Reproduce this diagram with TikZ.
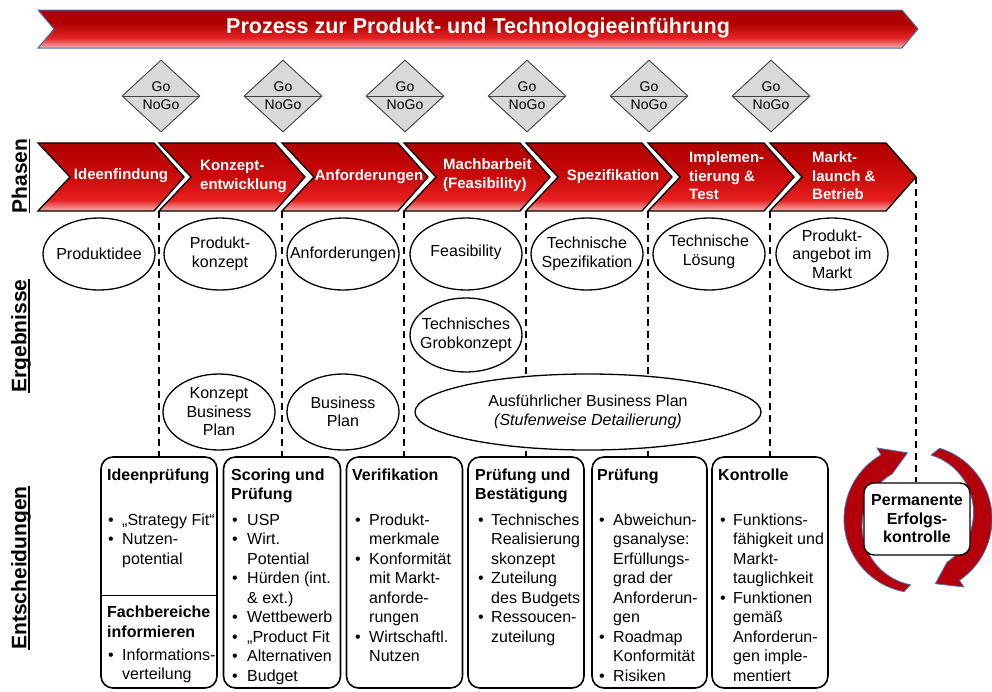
\documentclass[tikz,border=0pt]{standalone}
\usepackage{fontspec}
\setmainfont{Liberation Sans}
\usetikzlibrary{shapes.geometric}
\definecolor{pD}{HTML}{B00000}
\definecolor{pMD}{HTML}{CC0A0A}
\definecolor{pM}{HTML}{E82020}
\definecolor{pL}{HTML}{F5B5B5}
\definecolor{bM}{HTML}{E42424}
\definecolor{bL}{HTML}{F6B0B0}
\definecolor{bannerline}{HTML}{4A70B0}
\definecolor{dgray}{HTML}{D9D9D9}
\definecolor{circred}{HTML}{B4000A}
\pgfdeclareverticalshading{phaseshade}{100bp}{color(0bp)=(pL); color(25bp)=(pL); color(33bp)=(pM); color(50bp)=(pMD); color(75bp)=(pD); color(100bp)=(pD)}
\pgfdeclareverticalshading{bannershade}{100bp}{color(0bp)=(bL); color(25bp)=(bL); color(38bp)=(bM); color(58bp)=(pD); color(75bp)=(pD); color(100bp)=(pD)}
\newsavebox{\ulbox}
\newcommand{\myul}[1]{\sbox{\ulbox}{#1}\rlap{\usebox{\ulbox}}\rule[-3.5pt]{\wd\ulbox}{1.6pt}}
\newcommand{\bxitems}[5]{%
  \foreach \ya/\bu/\tx [count=\k] in {#5} {
    \node[txt] (#1i\k) at (#4,\ya) {\tx};
    \ifnum\bu=1 \node[txt] (#1d\k) at (#3,\ya) {\textbullet};\fi
  }}
\begin{document}
\begin{tikzpicture}[x=1pt,y=-1pt,
  txt/.style={font=\fontsize{16}{19.5}\selectfont, inner sep=0pt, anchor=base west},
  ttl/.style={txt, font=\fontsize{16}{19.5}\selectfont\bfseries},
  ptxt/.style={text=white, font=\fontsize{15}{18.5}\selectfont\bfseries, inner sep=0pt, align=left},
  gonogo/.style={diamond, draw=black!75, fill=dgray, line width=0.9pt, minimum width=78pt, minimum height=72pt, inner sep=0pt},
  gtxt/.style={font=\fontsize{14}{16}\selectfont, inner sep=0pt},
  dbox/.style={draw, line width=1.6pt, rounded corners=12pt, minimum height=231pt, inner sep=0pt, fill=white},
  ell/.style={ellipse, draw, line width=1.3pt, fill=white, inner sep=0pt, minimum width=112pt, minimum height=72pt},
  etxt/.style={inner sep=0pt, align=center, font=\fontsize{16}{18.5}\selectfont},
  dline/.style={line width=1.6pt, dash pattern=on 7pt off 5pt},
  lbl/.style={rotate=90, font=\fontsize{21}{24}\selectfont\bfseries, inner sep=0pt},
  carrow/.style={fill=circred, draw=bannerline, line width=0.8pt}
]
\useasboundingbox (0,0) rectangle (992,691);

% banner
\shade[shading=bannershade, draw=bannerline, line width=1pt] (38,10) -- (902,10) -- (918,29) -- (902,48) -- (38,48) -- (54,29) -- cycle;
\node[font=\fontsize{21.5}{24}\selectfont\bfseries, text=white] (title) at (478,28) {Prozess zur Produkt- und Technologieeinführung};

% Go / NoGo
\foreach \x [count=\i] in {161,283,405,527,649,771} {
  \node[gonogo] (g\i) at (\x,96) {};
  \draw[line width=0.9pt, draw=black!75] (g\i.west) -- (g\i.east);
  \node[gtxt] (go\i) at (\x,87) {Go};
  \node[gtxt] (nogo\i) at (\x,105) {NoGo};
}

% phase chevrons
\foreach \xs [count=\i] in {38,159,282,404,526,648,770} {
  \shade[shading=phaseshade, draw=black, line width=1.3pt, line join=miter] (\xs,143) -- ++(116,0) -- ++(30,34) -- ++(-30,34) -- ++(-116,0) -- ++(32,-34) -- cycle;
  \coordinate (j\i) at (\xs,211);
}
\coordinate (tip7) at (916,177);

\node[ptxt] (p1) at (121,176) {Ideenfindung};
\node[ptxt, anchor=west] (p2) at (200,176.5) {Konzept-\\entwicklung};
\node[ptxt] (p3) at (369,177) {Anforderungen};
\node[ptxt, anchor=west] (p4) at (443,175) {Machbarbeit\\(Feasibility)};
\node[ptxt] (p5) at (613,177) {Spezifikation};
\node[ptxt, anchor=west] (p6) at (689,176) {Implemen-\\tierung \&\\Test};
\node[ptxt, anchor=west] (p7) at (812,176) {Markt-\\launch \&\\Betrieb};

% side labels
\node[lbl] (lphasen) at (21,176) {\myul{Phasen}};
\node[lbl] (lerg) at (21,336) {\myul{Ergebnisse}};
\node[lbl] (lent) at (21,568) {\myul{Entscheidungen}};

% circular arrows
\begin{scope}[shift={(918,519)}, y=1pt]
\path[carrow] (259:74pt) arc[start angle=259, end angle=120, radius=74pt] -- (120:82pt) -- (99:67pt) -- (120:52pt) arc[start angle=120, end angle=259, radius=60pt] -- cycle;
\path[carrow] (73:74pt) arc[start angle=73, end angle=-56, radius=74pt] -- (-56:82pt) -- (-75:67pt) -- (-56:52pt) arc[start angle=-56, end angle=73, radius=60pt] -- cycle;
\end{scope}

% decision boxes
\node[dbox, minimum width=116pt] (b2) at (159,572.5) {};
\node[dbox, minimum width=117pt] (b3) at (282,572.5) {};
\node[dbox, minimum width=116pt] (b4) at (404.5,572.5) {};
\node[dbox, minimum width=116pt] (b5) at (526,572.5) {};
\node[dbox, minimum width=115pt] (b6) at (649.5,572.5) {};
\node[dbox, minimum width=116pt] (b7) at (770,572.5) {};
\draw[line width=1pt] (b2.west |- 0,595) -- (b2.east |- 0,595);

\node[draw, line width=1.4pt, rounded corners=10pt, fill=white, minimum width=106pt, minimum height=72pt, inner sep=0pt, align=center, font=\fontsize{16}{18.5}\selectfont\bfseries] (perm) at (917,519) {Permanente\\Erfolgs-\\kontrolle};

% dashed connectors
\foreach \i in {2,...,7} { \draw[dline] (j\i) -- (j\i |- b\i.north); }
\draw[dline] (tip7) -- (tip7 |- perm.north);

% result ellipses
\node[ell] (e1) at (99,254) {};
\node[etxt] (e1t) at (e1) {Produktidee};
\node[ell] (e2) at (220,254) {};
\node[etxt] (e2t) at (e2) {Produkt-\\konzept};
\node[ell] (e3) at (343,254) {};
\node[etxt] (e3t) at (e3) {Anforderungen};
\node[ell] (e4) at (466,254) {};
\node[etxt] (e4t) at (466,252) {Feasibility};
\node[ell] (e5) at (587,254) {};
\node[etxt] (e5t) at (e5) {Technische\\Spezifikation};
\node[ell] (e6) at (709,254) {};
\node[etxt] (e6t) at (709,252) {Technische\\Lösung};
\node[ell] (e7) at (832,254) {};
\node[etxt] (e7t) at (e7) {Produkt-\\angebot im\\Markt};
\node[ell, minimum height=74pt] (e8) at (466,335) {};
\node[etxt] (e8t) at (e8) {Technisches\\Grobkonzept};
\node[ell, minimum height=76pt] (e9) at (219,412) {};
\node[etxt] (e9t) at (e9) {Konzept\\Business\\Plan};
\node[ell, minimum height=76pt] (e10) at (343,412) {};
\node[etxt] (e10t) at (e10) {Business\\Plan};
\node[ell, minimum width=346pt, minimum height=76pt] (e11) at (588,412) {};
\node[etxt] (e11t) at (e11) {Ausführlicher Business Plan\\\textit{(Stufenweise Detailierung)}};

% box texts
\node[ttl] (t2a) at (107,480) {Ideenprüfung};
\node[ttl] (t2b) at (107,617) {Fachbereiche};
\node[ttl] (t2c) at (107,637) {informieren};
\bxitems{b2}{107}{108}{122}{525/1/{„Strategy Fit“}, 544.5/1/Nutzen-, 564/0/potential, 660/1/Informations-, 679.5/0/verteilung}

\node[ttl] (t3a) at (231,480) {Scoring und};
\node[ttl] (t3b) at (231,499.5) {Prüfung};
\bxitems{b3}{231}{232}{247}{525/1/USP, 544.5/1/Wirt., 564/0/Potential, 583.5/1/Hürden (int., 603/0/\& ext.), 622.5/1/Wettbewerb, 642/1/„Product Fit, 661.5/1/Alternativen, 681/1/Budget}

\node[ttl] (t4a) at (352,480) {Verifikation};
\bxitems{b4}{352}{355}{369}{525/1/Produkt-, 544.5/0/merkmale, 564/1/Konformität, 583.5/0/mit Markt-, 603/0/anforde-, 622.5/0/rungen, 642/1/Wirtschaftl., 661.5/0/Nutzen}

\node[ttl] (t5a) at (475,480) {Prüfung und};
\node[ttl] (t5b) at (475,499.5) {Bestätigung};
\bxitems{b5}{475}{478}{491}{525/1/Technisches, 544.5/0/Realisierung, 564/0/skonzept, 583.5/1/Zuteilung, 603/0/des Budgets, 622.5/1/Ressoucen-, 642/0/zuteilung}

\node[ttl] (t6a) at (597,480) {Prüfung};
\bxitems{b6}{597}{599}{613}{525/1/Abweichun-, 544.5/0/gsanalyse:, 564/0/Erfüllungs-, 583.5/0/grad der, 603/0/Anforderun-, 622.5/0/gen, 642/1/Roadmap, 661.5/0/Konformität, 681/1/Risiken}

\node[ttl] (t7a) at (718,480) {Kontrolle};
\bxitems{b7}{718}{720}{733}{525/1/Funktions-, 544.5/0/fähigkeit und, 564/0/Markt-, 583.5/0/tauglichkeit, 603/1/Funktionen, 622.5/0/gemäß, 642/0/Anforderun-, 661.5/0/gen imple-, 681/0/mentiert}
\end{tikzpicture}
\end{document}
